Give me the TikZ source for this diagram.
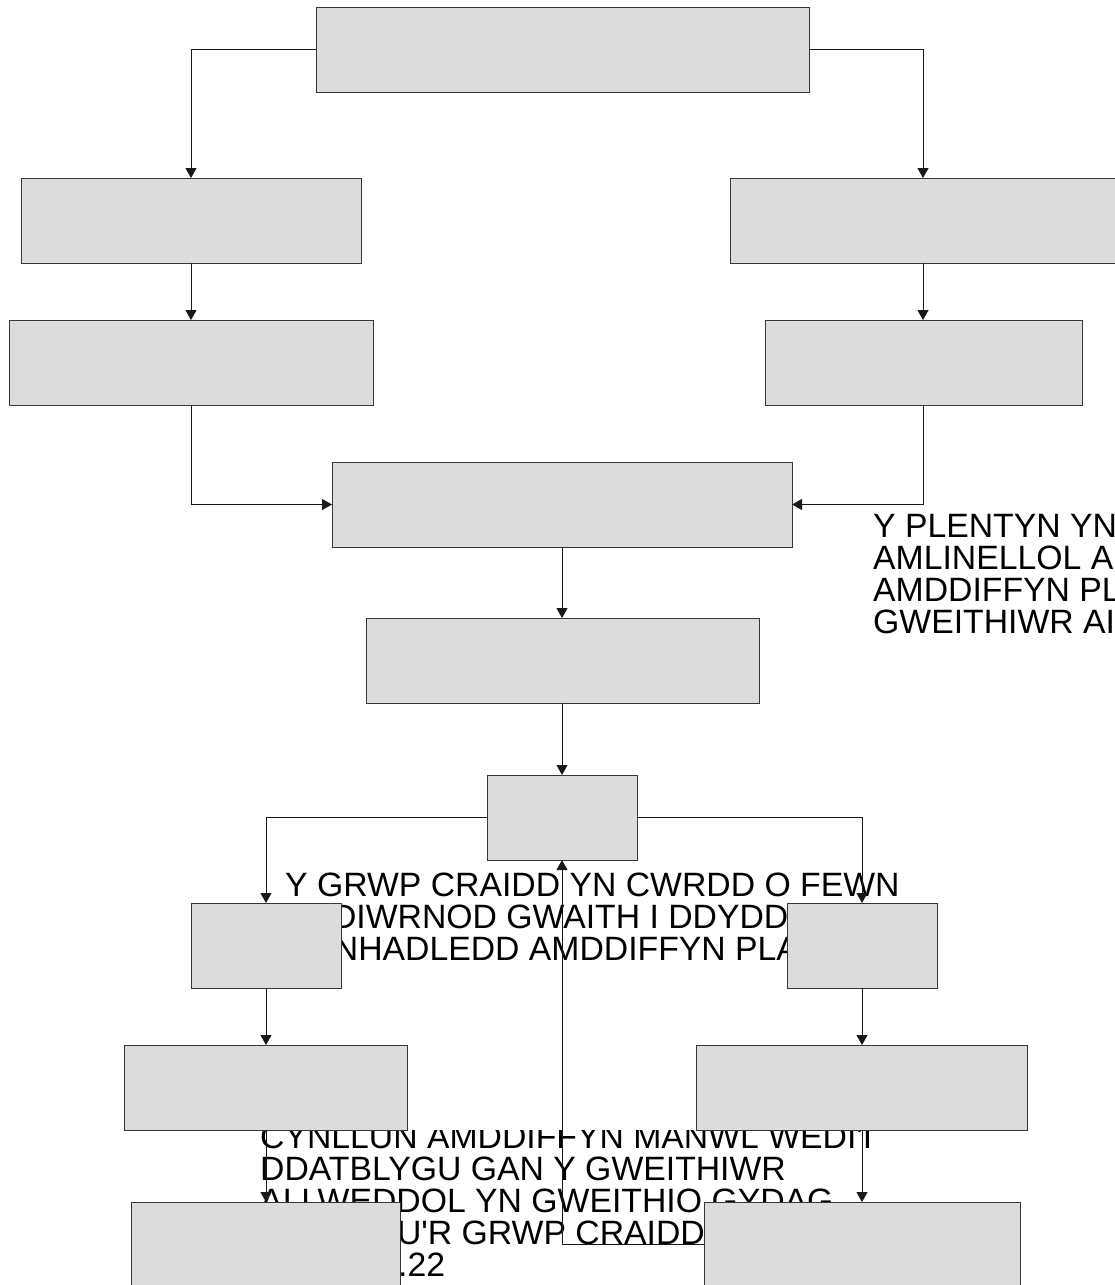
\documentclass[tikz,border=0pt]{standalone}
\usepackage{fontspec}
\setmainfont{Liberation Sans}
\usetikzlibrary{arrows.meta}
\definecolor{boxfill}{RGB}{220,220,220}
\definecolor{boxline}{RGB}{55,55,55}
\definecolor{linkline}{RGB}{25,25,25}

\begin{document}
\begin{tikzpicture}[
  x=1pt, y=-1pt,
  box/.style = {draw=boxline, fill=boxfill, line width=1pt, minimum width=#1, minimum height=85pt, inner sep=0pt, outer sep=0pt},
  link/.style = {draw=linkline, line width=1pt, -{Triangle[length=10pt,width=11pt]}},
  note/.style = {font=\fontsize{33.75}{32}\selectfont, align=left, anchor=base west, inner sep=0pt}
]
  \useasboundingbox (0,0) rectangle (1115,1285);

  \node[note] (plentyn) at (873,633) {Y PLENTYN YN\\AMLINELLOL A\\AMDDIFFYN PL\\GWEITHIWR AI};
  \node[note] (grwp) at (285,960) {Y GRWP CRAIDD YN CWRDD O FEWN\\\phantom{10 }DIWRNOD GWAITH I DDYDD\\\phantom{GY}NHADLEDD AMDDIFFYN PLA};
  \begin{scope}
    \clip (255,1130) rectangle (870,1285);
    \node[note] (cynllun) at (260,1276) {CYNLLUN AMDDIFFYN MANWL WEDI\textquotesingle I\\DDATBLYGU GAN Y GWEITHIWR\\AI LWEDDOL YN GWEITHIO GYDAG\\\phantom{AELODA}U\textquotesingle R GRWP CRAIDD\\\hspace*{138pt}.22};
  \end{scope}

  \node[box=493pt] (top) at (562.5,49.5) {};
  \node[box=340pt] (l1) at (191,220.5) {};
  \node[box=386pt] (r1) at (923,220.5) {};
  \node[box=364pt] (l2) at (191,362.5) {};
  \node[box=317pt] (r2) at (923.5,362.5) {};
  \node[box=460pt] (m1) at (562,504.5) {};
  \node[box=393pt] (m2) at (562.5,660.5) {};
  \node[box=150pt] (m3) at (562,817.5) {};
  \node[box=150pt] (l3) at (266,945.5) {};
  \node[box=150pt] (r3) at (862,945.5) {};
  \node[box=283pt] (l4) at (265.5,1087.5) {};
  \node[box=331pt] (r4) at (861.5,1087.5) {};
  \node[box=269pt] (l5) at (265.5,1244.5) {};
  \node[box=316pt] (r5) at (862,1244.5) {};

  \draw[link] (top.west) -| (l1.north);
  \draw[link] (top.east) -| (r1.north);
  \draw[link] (l1.south) -- (l2.north);
  \draw[link] (r1.south) -- (r1.south |- r2.north);
  \draw[link] (l2.south) |- (m1.west);
  \draw[link] (r1.south |- r2.south) |- (m1.east);
  \draw[link] (m1.south) -- (m1.south |- m2.north);
  \draw[link] (m1.south |- m2.south) -- (m3.north);
  \draw[link] (m3.west) -| (l3.north);
  \draw[link] (m3.east) -| (r3.north);
  \draw[link] (l3.south) -- (l3.south |- l4.north);
  \draw[link] (r3.south) -- (r3.south |- r4.north);
  \draw[link] (l3.south |- l4.south) -- (l3.south |- l5.north);
  \draw[link] (r3.south |- r4.south) -- (r5.north);
  \draw[link] (r5.west) -| (m3.south);
\end{tikzpicture}
\end{document}
